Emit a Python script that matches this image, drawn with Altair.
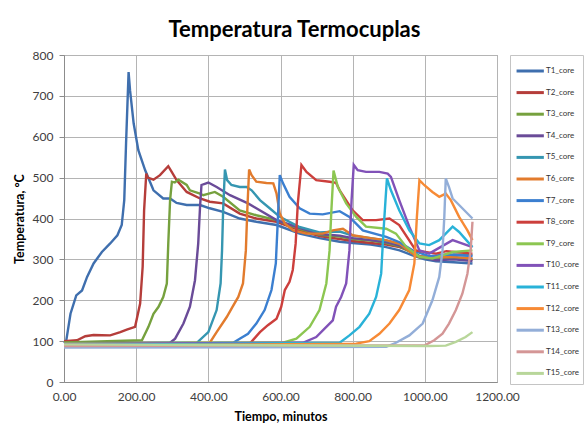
import altair as alt
import pandas as pd

# Thermocouple series: time in minutes, temperature in °C
T1_t = [0, 6, 18, 34, 50, 64, 82, 105, 128, 148, 160, 167, 172, 179, 183, 193, 206, 225, 248, 275, 294, 312, 340, 377, 404, 441, 487, 533, 589, 653, 708, 764, 800, 850, 893, 930, 966, 1000, 1031, 1080, 1132]
T1_v = [95, 100, 167, 212, 224, 257, 290, 318, 339, 359, 384, 445, 584, 758, 714, 633, 567, 518, 469, 449, 449, 438, 433, 433, 425, 416, 400, 392, 384, 363, 352, 343, 340, 336, 330, 322, 310, 300, 295, 293, 290]

T2_t = [0, 36, 59, 82, 128, 156, 174, 197, 211, 218, 222, 228, 232, 248, 266, 289, 296, 312, 340, 377, 404, 441, 487, 533, 589, 650, 708, 764, 800, 850, 893, 930, 966, 985, 1031, 1080, 1132]
T2_v = [100, 102, 112, 115, 114, 122, 128, 135, 192, 282, 420, 510, 500, 495, 506, 528, 518, 494, 465, 449, 441, 437, 412, 400, 392, 372, 357, 350, 345, 340, 336, 330, 318, 308, 302, 303, 300]

T3_t = [0, 216, 234, 248, 262, 275, 285, 289, 294, 299, 307, 317, 340, 349, 377, 386, 418, 441, 487, 533, 589, 650, 708, 764, 800, 850, 893, 930, 966, 985, 1031, 1080, 1132]
T3_v = [97, 102, 135, 167, 184, 208, 241, 339, 445, 490, 488, 495, 482, 469, 461, 457, 465, 453, 420, 408, 396, 375, 360, 356, 350, 346, 340, 332, 315, 305, 300, 302, 300]

T4_t = [0, 294, 308, 331, 349, 363, 372, 377, 381, 390, 400, 423, 460, 510, 533, 589, 650, 708, 764, 800, 850, 893, 930, 966, 985, 1031, 1080, 1132]
T4_v = [95, 96, 106, 143, 184, 249, 339, 428, 482, 485, 488, 477, 457, 437, 425, 396, 378, 362, 358, 352, 347, 342, 334, 318, 306, 298, 300, 296]

T5_t = [0, 368, 400, 423, 434, 438, 441, 446, 452, 464, 487, 506, 520, 543, 570, 598, 650, 708, 764, 800, 850, 893, 930, 966, 985, 1031, 1080, 1132]
T5_v = [93, 96, 122, 176, 241, 322, 420, 520, 494, 482, 477, 477, 469, 445, 425, 404, 380, 366, 368, 358, 352, 346, 338, 320, 308, 304, 312, 310]

T6_t = [0, 404, 423, 451, 467, 483, 496, 504, 508, 513, 520, 533, 561, 580, 589, 598, 612, 635, 672, 717, 745, 773, 800, 850, 893, 930, 975, 1031, 1080, 1132]
T6_v = [90, 96, 122, 159, 184, 208, 241, 322, 420, 520, 506, 490, 487, 486, 461, 412, 388, 371, 363, 363, 371, 375, 359, 352, 347, 338, 308, 305, 306, 302]

T7_t = [0, 469, 487, 510, 533, 556, 575, 587, 593, 598, 607, 625, 653, 681, 717, 764, 791, 828, 893, 930, 966, 1012, 1060, 1132]
T7_v = [88, 96, 106, 118, 143, 176, 225, 290, 404, 506, 486, 453, 425, 412, 410, 418, 404, 371, 355, 342, 322, 308, 312, 308]

T8_t = [0, 515, 543, 565, 589, 602, 612, 625, 634, 642, 648, 658, 672, 699, 736, 754, 764, 800, 828, 865, 902, 929, 975, 1031, 1060, 1132]
T8_v = [92, 94, 122, 139, 155, 184, 225, 245, 274, 339, 437, 531, 514, 494, 490, 487, 469, 420, 396, 396, 400, 384, 322, 314, 320, 314]

T9_t = [0, 607, 644, 681, 708, 727, 736, 741, 747, 759, 782, 810, 837, 893, 920, 948, 985, 1021, 1077, 1132]
T9_v = [95, 96, 106, 135, 176, 241, 322, 420, 517, 477, 437, 404, 380, 375, 363, 331, 306, 302, 318, 322]

T10_t = [0, 662, 699, 727, 745, 754, 768, 782, 791, 797, 803, 814, 837, 874, 897, 906, 929, 957, 985, 1012, 1077, 1132]
T10_v = [93, 96, 110, 135, 151, 184, 208, 241, 322, 445, 531, 518, 514, 514, 510, 502, 445, 380, 322, 314, 347, 330]

T11_t = [0, 764, 791, 819, 846, 865, 879, 885, 891, 895, 906, 929, 957, 985, 1012, 1040, 1077, 1095, 1132]
T11_v = [90, 96, 114, 135, 167, 208, 265, 363, 445, 498, 469, 420, 371, 339, 335, 347, 380, 367, 330]

T12_t = [0, 810, 846, 874, 902, 929, 957, 971, 978, 985, 989, 998, 1021, 1040, 1058, 1072, 1095, 1118, 1132]
T12_v = [88, 94, 100, 118, 143, 176, 225, 290, 404, 494, 490, 482, 465, 453, 461, 445, 404, 371, 347]

T13_t = [0, 893, 920, 957, 994, 1021, 1040, 1049, 1054, 1058, 1067, 1077, 1095, 1132]
T13_v = [84, 86, 96, 114, 143, 200, 257, 322, 404, 498, 477, 449, 433, 400]

T14_t = [0, 1000, 1026, 1049, 1067, 1086, 1104, 1118, 1127, 1132]
T14_v = [88, 90, 102, 118, 143, 176, 216, 265, 322, 392]

T15_t = [0, 1012, 1058, 1086, 1113, 1132]
T15_v = [92, 88, 89, 98, 110, 122]

names = [f"T{i}_core" for i in range(1, 16)]
colors = ["#3f6fae", "#b53d3a", "#76a13e", "#6a4b98", "#3596b1", "#e27b2d",
          "#3b7fd0", "#cc3f3c", "#8cc651", "#8152b8", "#29b2d8", "#f78a35",
          "#93aed8", "#d49696", "#b8d69a"]

series = [(T1_t, T1_v), (T2_t, T2_v), (T3_t, T3_v), (T4_t, T4_v), (T5_t, T5_v),
          (T6_t, T6_v), (T7_t, T7_v), (T8_t, T8_v), (T9_t, T9_v), (T10_t, T10_v),
          (T11_t, T11_v), (T12_t, T12_v), (T13_t, T13_v), (T14_t, T14_v), (T15_t, T15_v)]

rows = []
for name, (ts, vs) in zip(names, series):
    for t, v in zip(ts, vs):
        rows.append({"serie": name, "tiempo": t, "temp": v})
df = pd.DataFrame(rows)

FONT = "Lato"

chart = alt.Chart(df).mark_line(strokeWidth=2.4).encode(
    x=alt.X("tiempo:Q",
            scale=alt.Scale(domain=[0, 1200], nice=False),
            axis=alt.Axis(title="Tiempo, minutos", values=list(range(0, 1201, 200)),
                          format=".2f", ticks=False, labelPadding=9, titlePadding=8,
                          labelFlush=False)),
    y=alt.Y("temp:Q",
            scale=alt.Scale(domain=[0, 800], nice=False),
            axis=alt.Axis(title="Temperatura, °C", values=list(range(0, 801, 100)),
                          tickSize=5, labelPadding=6, titlePadding=6)),
    color=alt.Color("serie:N",
                    scale=alt.Scale(domain=names, range=colors),
                    sort=names,
                    legend=alt.Legend(title=None, orient="none", legendX=446, legendY=0,
                                      symbolType="M-0.9,0H1.7", symbolSize=441,
                                      symbolStrokeWidth=3, labelFontSize=8,
                                      labelFont=FONT, labelColor="#333333",
                                      labelOffset=8, rowPadding=3.6,
                                      strokeColor="#c4c4c4", padding=4,
                                      fillColor="white")),
    order=alt.Order("tiempo:Q"),
    detail="serie:N",
).properties(
    width=433,
    height=327,
    title=alt.TitleParams("Temperatura Termocuplas", font=FONT, fontSize=22,
                          fontWeight="bold", color="#000000", anchor="middle",
                          dx=14, dy=26, offset=16, baseline="alphabetic"),
    autosize=alt.AutoSizeParams(type="none"),
    padding={"left": 64, "top": 55, "right": 87, "bottom": 45},
).configure_view(
    stroke="#9a9a9a", strokeWidth=1
).configure_axis(
    labelFont=FONT, labelFontSize=12, labelColor="#404040",
    titleFont=FONT, titleFontSize=12.5, titleFontWeight="bold", titleColor="#000000",
    gridColor="#b4b4b4", gridWidth=1, domainColor="#8c8c8c", tickColor="#8c8c8c",
)

chart.save("out.html", embed_options={"renderer": "svg", "actions": False})
